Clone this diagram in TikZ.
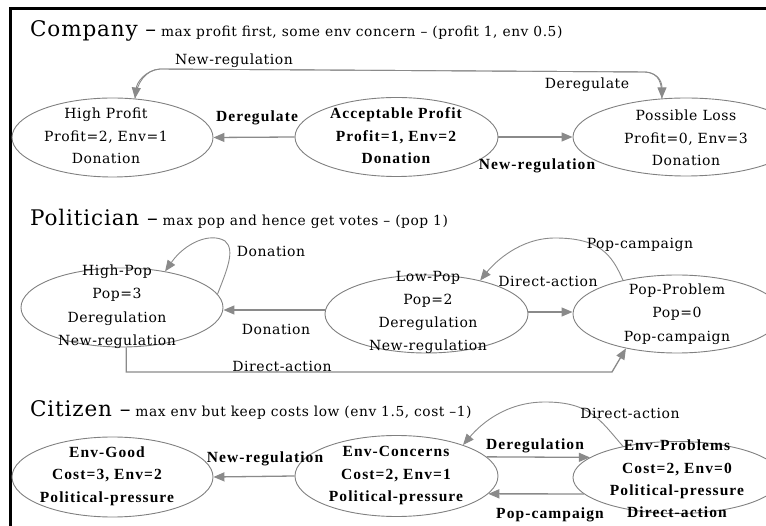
\documentclass[tikz,border=0pt]{standalone}
\usepackage{fontspec}
\setmainfont{DejaVu Serif}[LetterSpace=4]
\newfontfamily\boldserif{Liberation Serif}[LetterSpace=7]
\usetikzlibrary{arrows.meta,shapes.geometric}
\definecolor{edgegray}{HTML}{8A8A8A}
\definecolor{ellgray}{HTML}{808080}
\begin{document}
\begin{tikzpicture}[x=1pt,y=-1pt,
  state/.style={ellipse,draw=ellgray,line width=0.9pt,inner sep=0pt},
  txt/.style={align=center,inner sep=0pt,font=\fontsize{14}{22.5}\selectfont},
  btxt/.style={align=center,inner sep=0pt,font=\boldserif\fontsize{15.5}{22.5}\selectfont\bfseries},
  edge/.style={draw=edgegray,line width=1.3pt,-{Triangle[length=11pt,width=9pt]}},
  cedge/.style={draw=edgegray,line width=0.9pt,-{Triangle[length=11pt,width=9pt]}},
  lbl/.style={inner sep=0pt,font=\fontsize{14}{14}\selectfont},
  blbl/.style={inner sep=0pt,font=\boldserif\fontsize{15.5}{15.5}\selectfont\bfseries},
  ttl/.style={anchor=base west,inner sep=0pt,font=\fontsize{13.8}{14}\selectfont}]
\useasboundingbox (0,0) rectangle (766,526);
\draw[line width=2.5pt] (10.3,530) -- (10.3,8.7) -- (770,8.7);

% ---------- Company ----------
\node[ttl] (tc) at (30,37) {{\fontsize{21.5}{21.5}\selectfont Company –} max profit first, some env concern – (profit 1, env 0.5)};
\node[state,minimum width=201pt,minimum height=79pt] (hp) at (112.5,137.5) {};
\node[txt] (hpt) at (106,136) {High Profit\\Profit=2, Env=1\\Donation};
\node[state,minimum width=203pt,minimum height=79pt] (ap) at (396.5,137) {};
\node[btxt] (apt) at (396,136) {Acceptable Profit\\Profit=1, Env=2\\Donation};
\node[state,minimum width=226pt,minimum height=78pt] (pl) at (686,137) {};
\node[txt] (plt) at (686,138) {Possible Loss\\Profit=0, Env=3\\Donation};

\draw[edge] (ap.west) -- (hp.east);
\draw[edge] (ap.east) -- (pl.west);
\draw[cedge] (pl.122) .. controls (662,84) and (660,73) .. (645,72) -- (160,69) .. controls (146,70) and (137,82) .. (hp.60);
\draw[cedge] (hp.60) .. controls (137,82) and (146,70) .. (160,69) -- (645,72) .. controls (660,73) and (662,84) .. (pl.122);

\node[blbl] (l1) at (257,118) {Deregulate};
\node[blbl] (l2) at (537,166) {New-regulation};
\node[lbl] (l3) at (234,61) {New-regulation};
\node[lbl] (l4) at (587,85) {Deregulate};

% ---------- Politician ----------
\node[ttl] (tp) at (30,226) {{\fontsize{21.5}{21.5}\selectfont Politician –} max pop and hence get votes – (pop 1)};
\node[state,minimum width=202pt,minimum height=79pt] (hq) at (122,307.5) {};
\node[txt,font=\fontsize{14}{23.5}\selectfont] (hqt) at (117,306.5) {High-Pop\\Pop=3\\Deregulation\\New-regulation};
\node[state,minimum width=203pt,minimum height=78pt] (lp) at (426.5,314) {};
\node[txt,font=\fontsize{14}{23}\selectfont] (lpt) at (428,312) {Low-Pop\\Pop=2\\Deregulation\\New-regulation};
\node[state,minimum width=208pt,minimum height=78pt] (pp) at (677,314) {};
\node[txt,font=\fontsize{14}{23.5}\selectfont] (ppt) at (677,314) {Pop-Problem\\Pop=0\\Pop-campaign};

\draw[edge] (lp.west |- 0,310) -- (hq.east |- 0,310);
\draw[edge] (lp.east |- 0,312) -- (pp.west |- 0,312);
\draw[cedge] (hq.8) .. controls (226,272) and (236,250) .. (225,241) .. controls (210,232) and (185,243) .. (hq.40);
\draw[cedge] (pp.148) .. controls (612,255) and (600,238) .. (555,238) .. controls (520,238) and (495,262) .. (lp.32);
\draw[edge] (hq.276) -- (hq.276 |- 0,372) -- (612,372) -- (pp.214);

\node[lbl] (m1) at (271,251) {Donation};
\node[lbl] (m2) at (276,329) {Donation};
\node[lbl] (m3) at (548,281) {Direct-action};
\node[lbl] (m4) at (640,245) {Pop-campaign};
\node[lbl] (m5) at (282,366) {Direct-action};

% ---------- Citizen ----------
\node[ttl] (tz) at (30,417) {{\fontsize{21.5}{21.5}\selectfont Citizen –} max env but keep costs low (env 1.5, cost –1)};
\node[state,minimum width=201pt,minimum height=80pt] (eg) at (112.5,477) {};
\node[btxt] (egt) at (107,476) {Env-Good\\Cost=3, Env=2\\Political-pressure};
\node[state,minimum width=203pt,minimum height=81pt] (ec) at (396.5,476) {};
\node[btxt] (ect) at (396,476) {Env-Concerns\\Cost=2, Env=1\\Political-pressure};
\node[state,minimum width=208pt,minimum height=72pt] (ep) at (677,477.5) {};
\node[btxt,font=\boldserif\fontsize{15.5}{22.3}\selectfont\bfseries] (ept) at (677,479) {Env-Problems\\Cost=2, Env=0\\Political-pressure\\Direct-action};

\draw[edge] (ec.west) -- (eg.east);
\draw[edge] (ec.12) -- (ep.167);
\draw[edge] (ep.190) -- (ec.349);
\draw[cedge] (ep.150) .. controls (600,420) and (590,402) .. (545,402) .. controls (505,402) and (480,425) .. (ec.25);

\node[blbl] (n1) at (265,459) {New-regulation};
\node[blbl] (n2) at (535,446) {Deregulation};
\node[blbl] (n3) at (550,515) {Pop-campaign};
\node[lbl] (n4) at (630,413) {Direct-action};
\end{tikzpicture}
\end{document}
